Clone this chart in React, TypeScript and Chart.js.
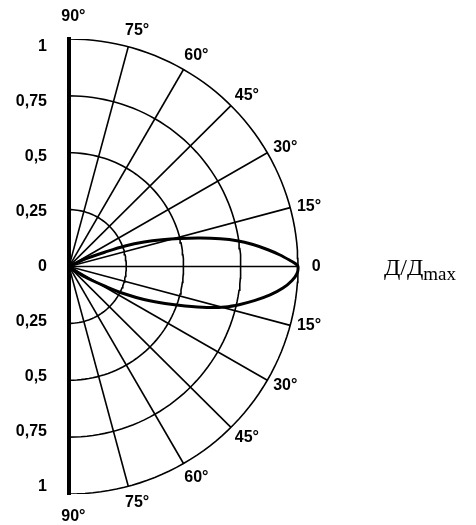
import { useEffect, useRef } from "react";
import { Chart, registerables } from "chart.js";

Chart.register(...registerables);

// Concentric rings of the relative scale Д/Дmax
const ringValues = [0.25, 0.5, 0.75, 1];
// Angular spokes, degrees from the main axis (positive = up)
const spokeAngles = [75, 60, 45, 30, 15, 0, -15, -30, -45, -60, -75];
// Angle captions around the outer ring
const angleTickAngles = [90, 75, 60, 45, 30, 15, 0, -15, -30, -45, -60, -75, -90];
const angleTickLabels = ["90°", "75°", "60°", "45°", "30°", "15°", "0", "15°", "30°", "45°", "60°", "75°", "90°"];
// Radial scale ticks along the vertical axis
const radialTicks = [-1, -0.75, -0.5, -0.25, 0, 0.25, 0.5, 0.75, 1];
// Directional pattern: angle (deg) and relative value Д/Дmax
const lobeAngles = [28, 25.3, 21.7, 20.2, 18.2, 16.2, 14.3, 12.35, 10.47, 8.79, 6.86, 4.85, 3.14, 1.57, 0.64, 0, -1.8, -3.6, -5.8, -8.1, -10.4, -12.6, -14.65, -16.65, -18.9, -21.2, -23.9, -26.3, -28.5, -33.5, -36];
const lobeValues = [0, 0.077, 0.179, 0.261, 0.345, 0.423, 0.5, 0.586, 0.671, 0.742, 0.809, 0.872, 0.923, 0.966, 0.991, 1, 0.996, 0.976, 0.939, 0.887, 0.826, 0.765, 0.704, 0.629, 0.536, 0.45, 0.358, 0.273, 0.189, 0.084, 0];
const quantityMain = "Д/Д";
const quantitySub = "max";

const SANS_BOLD = 'bold 16px "Liberation Sans", Arial, sans-serif';

const rad = (deg: number) => (deg * Math.PI) / 180;
const polar = (r: number, deg: number) => ({ x: r * Math.cos(rad(deg)), y: r * Math.sin(rad(deg)) });

function ringPoints(r: number) {
  const pts = [] as { x: number; y: number }[];
  for (let a = -90; a <= 90; a += 2) pts.push(polar(r, a));
  return pts;
}

const fmt = (v: number) => {
  const a = Math.abs(v);
  return a === 0 ? "0" : String(a).replace(".", ",");
};

const labelsPlugin = {
  id: "polarLabels",
  afterDraw(chart: any) {
    const { ctx } = chart;
    const xs = chart.scales.x;
    const ys = chart.scales.y;
    ctx.save();
    ctx.fillStyle = "#000";
    ctx.font = SANS_BOLD;
    ctx.textAlign = "center";
    ctx.textBaseline = "middle";
    angleTickAngles.forEach((deg, i) => {
      const shift = deg === 0 ? 0 : Math.sign(deg) * 1;
      const r = Math.abs(deg) === 90 ? 1.1 : 1.08;
      const p = polar(r, deg - shift);
      ctx.fillText(angleTickLabels[i], xs.getPixelForValue(p.x), ys.getPixelForValue(p.y));
    });
    // quantity caption to the right of the diagram
    const qx = xs.getPixelForValue(1.375);
    const qy = ys.getPixelForValue(0);
    ctx.textAlign = "left";
    ctx.textBaseline = "alphabetic";
    ctx.font = '24px "Liberation Serif", "Times New Roman", serif';
    ctx.fillText(quantityMain, qx, qy + 8);
    const w = ctx.measureText(quantityMain).width;
    ctx.font = '19px "Liberation Serif", "Times New Roman", serif';
    ctx.fillText(quantitySub, qx + w, qy + 13);
    ctx.restore();
  },
};

export default function App() {
  const ref = useRef<HTMLCanvasElement | null>(null);

  useEffect(() => {
    if (!ref.current) return;
    const line = { showLine: true, pointRadius: 0, borderColor: "#000", fill: false };
    const datasets: any[] = [];
    ringValues.forEach((r) => datasets.push({ ...line, data: ringPoints(r), borderWidth: 1.6 }));
    spokeAngles.forEach((a) =>
      datasets.push({ ...line, data: [polar(0, a), polar(1, a)], borderWidth: 1.6 })
    );
    datasets.push({
      ...line,
      data: lobeAngles.map((a, i) => polar(lobeValues[i], a)),
      borderWidth: 3,
      tension: 0.3,
    });

    const chart = new Chart(ref.current, {
      type: "scatter",
      data: { datasets },
      options: {
        animation: false,
        responsive: false,
        events: [],
        layout: { padding: { top: 39, bottom: 31, left: 0, right: 6.25 } },
        plugins: { legend: { display: false }, tooltip: { enabled: false } },
        scales: {
          x: { type: "linear", display: false, min: 0, max: 1.75 },
          y: { type: "linear", display: false, min: -1, max: 1 },
          r: {
            type: "linear",
            position: "left",
            min: -1.034,
            max: 1.034,
            grid: { display: false, drawTicks: false },
            border: { display: true, color: "#000", width: 4 },
            afterBuildTicks: (scale: any) => {
              scale.ticks = radialTicks.map((v) => ({ value: v }));
            },
            afterFit: (scale: any) => {
              scale.width = 69;
              scale.paddingTop = 0;
              scale.paddingBottom = 0;
            },
            ticks: {
              padding: 22,
              color: "#000",
              font: { family: '"Liberation Sans", Arial, sans-serif', size: 16, weight: "bold" },
              callback: (v: any) => fmt(Number(v)),
            },
          },
        },
      },
      plugins: [labelsPlugin],
    });
    return () => chart.destroy();
  }, []);

  return (
    <div style={{ position: "absolute", left: 0, top: 0, width: 476, height: 525, background: "#fff" }}>
      <canvas ref={ref} width={476} height={525} style={{ display: "block" }} />
    </div>
  );
}
